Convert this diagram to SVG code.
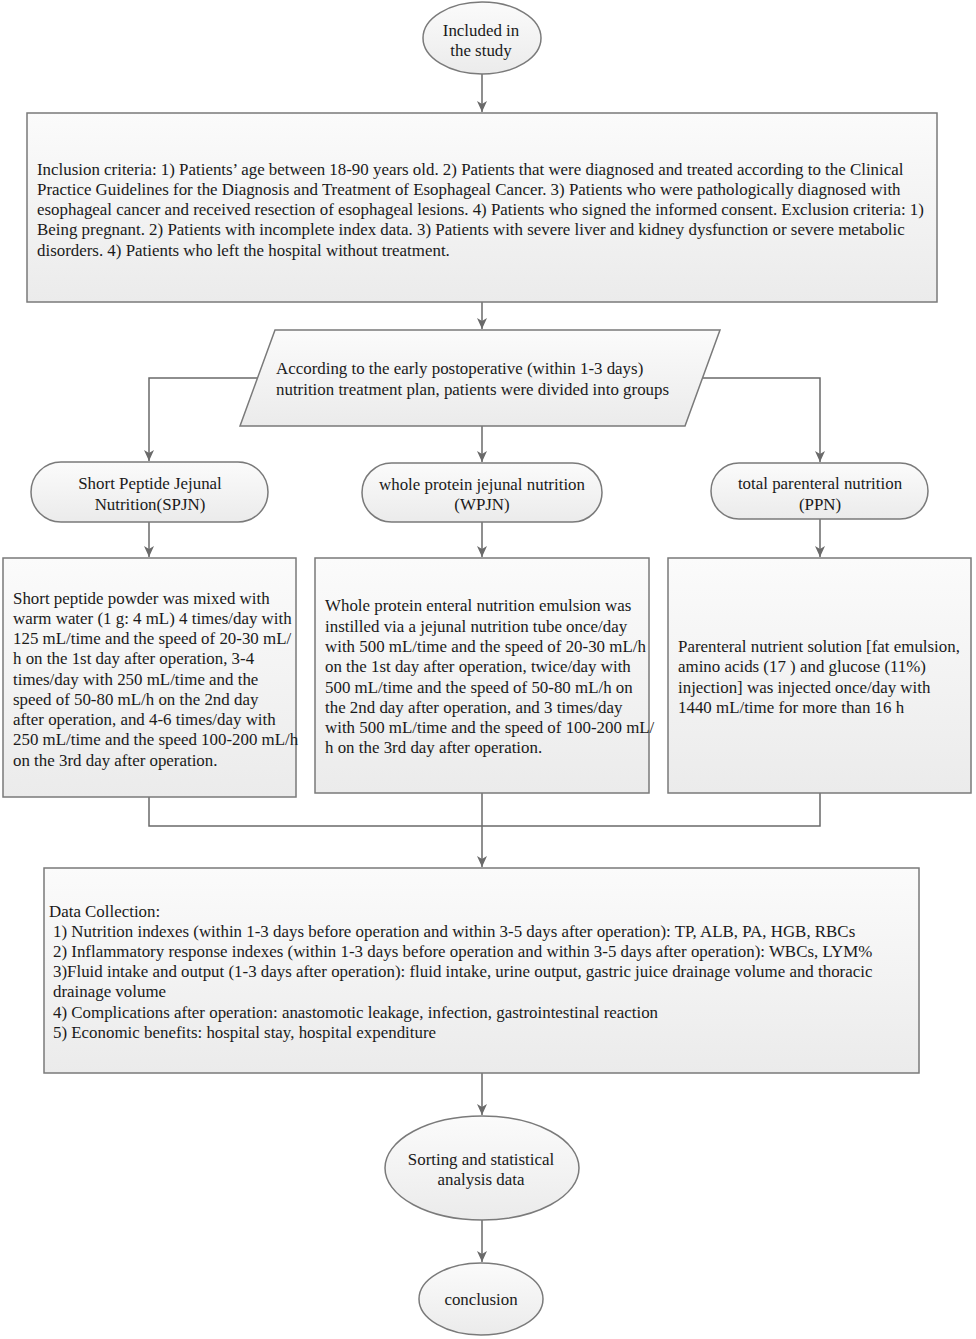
<svg xmlns="http://www.w3.org/2000/svg" width="976" height="1339" viewBox="0 0 976 1339">
<defs>
<linearGradient id="g" x1="0" y1="0" x2="0" y2="1">
<stop offset="0" stop-color="#fbfbfb"/>
<stop offset="1" stop-color="#ebebeb"/>
</linearGradient>
<marker id="arr" markerWidth="12" markerHeight="10" refX="11" refY="5" orient="auto" markerUnits="userSpaceOnUse">
<path d="M0,0 L11,5 L0,10 L3,5 z" fill="#6a6a6a"/>
</marker>
</defs>
<style>
.n{fill:url(#g);stroke:#7a7a7a;stroke-width:1.5}
.t{font-family:"Liberation Serif","Times New Roman",serif;font-size:16.9px;fill:#1a1a1a}
.c{text-anchor:middle}
.e{fill:none;stroke:#6a6a6a;stroke-width:1.5}
</style>
<rect width="976" height="1339" fill="#ffffff"/>
<g id="connectors">
<line class="e" x1="482" y1="73" x2="482" y2="112" marker-end="url(#arr)"/>
<line class="e" x1="482" y1="302" x2="482" y2="329" marker-end="url(#arr)"/>
<polyline class="e" points="257,378 149,378 149,461" marker-end="url(#arr)"/>
<line class="e" x1="482" y1="426" x2="482" y2="462" marker-end="url(#arr)"/>
<polyline class="e" points="702,378 820,378 820,462" marker-end="url(#arr)"/>
<line class="e" x1="149" y1="522" x2="149" y2="557" marker-end="url(#arr)"/>
<line class="e" x1="482" y1="522" x2="482" y2="557" marker-end="url(#arr)"/>
<line class="e" x1="820" y1="519" x2="820" y2="557" marker-end="url(#arr)"/>
<polyline class="e" points="149,797 149,826 820,826 820,793"/>
<line class="e" x1="482" y1="793" x2="482" y2="826"/>
<line class="e" x1="482" y1="826" x2="482" y2="867" marker-end="url(#arr)"/>
<line class="e" x1="482" y1="1073" x2="482" y2="1115" marker-end="url(#arr)"/>
<line class="e" x1="482" y1="1220" x2="482" y2="1262" marker-end="url(#arr)"/>
</g>
<g id="start">
<ellipse class="n" cx="482" cy="38" rx="59" ry="36"/>
<text class="t c" x="481" y="36">Included in</text>
<text class="t c" x="481" y="56">the study</text>
</g>
<g id="criteria">
<rect class="n" x="27" y="113" width="910" height="189"/>
<text class="t" x="37" y="175">Inclusion criteria: 1) Patients’ age between 18-90 years old. 2) Patients that were diagnosed and treated according to the Clinical</text>
<text class="t" x="37" y="195">Practice Guidelines for the Diagnosis and Treatment of Esophageal Cancer. 3) Patients who were pathologically diagnosed with</text>
<text class="t" x="37" y="215">esophageal cancer and received resection of esophageal lesions. 4) Patients who signed the informed consent. Exclusion criteria: 1)</text>
<text class="t" x="37" y="235">Being pregnant. 2) Patients with incomplete index data. 3) Patients with severe liver and kidney dysfunction or severe metabolic</text>
<text class="t" x="37" y="256">disorders. 4) Patients who left the hospital without treatment.</text>
</g>
<g id="grouping">
<polygon class="n" points="275,330 720,330 685,426 240,426"/>
<text class="t" x="276" y="374">According to the early postoperative (within 1-3 days)</text>
<text class="t" x="276" y="395">nutrition treatment plan, patients were divided into groups</text>
</g>
<g id="spjn">
<rect class="n" x="31" y="462" width="237" height="60" rx="30"/>
<text class="t c" x="150" y="489">Short Peptide Jejunal</text>
<text class="t c" x="150" y="510">Nutrition(SPJN)</text>
</g>
<g id="wpjn">
<rect class="n" x="362" y="463" width="240" height="59" rx="29.5"/>
<text class="t c" x="482" y="490">whole protein jejunal nutrition</text>
<text class="t c" x="482" y="510">(WPJN)</text>
</g>
<g id="ppn">
<rect class="n" x="711" y="463" width="217" height="56" rx="28"/>
<text class="t c" x="820" y="489">total parenteral nutrition</text>
<text class="t c" x="820" y="510">(PPN)</text>
</g>
<g id="spjn-detail">
<rect class="n" x="3" y="558" width="293" height="239"/>
<text class="t" x="13" y="604">Short peptide powder was mixed with</text>
<text class="t" x="13" y="624">warm water (1 g: 4 mL) 4 times/day with</text>
<text class="t" x="13" y="644">125 mL/time and the speed of 20-30 mL/</text>
<text class="t" x="13" y="664">h on the 1st day after operation, 3-4</text>
<text class="t" x="13" y="685">times/day with 250 mL/time and the</text>
<text class="t" x="13" y="705">speed of 50-80 mL/h on the 2nd day</text>
<text class="t" x="13" y="725">after operation, and 4-6 times/day with</text>
<text class="t" x="13" y="745">250 mL/time and the speed 100-200 mL/h</text>
<text class="t" x="13" y="766">on the 3rd day after operation.</text>
</g>
<g id="wpjn-detail">
<rect class="n" x="315" y="558" width="334" height="235"/>
<text class="t" x="325" y="611">Whole protein enteral nutrition emulsion was</text>
<text class="t" x="325" y="632">instilled via a jejunal nutrition tube once/day</text>
<text class="t" x="325" y="652">with 500 mL/time and the speed of 20-30 mL/h</text>
<text class="t" x="325" y="672">on the 1st day after operation, twice/day with</text>
<text class="t" x="325" y="693">500 mL/time and the speed of 50-80 mL/h on</text>
<text class="t" x="325" y="713">the 2nd day after operation, and 3 times/day</text>
<text class="t" x="325" y="733">with 500 mL/time and the speed of 100-200 mL/</text>
<text class="t" x="325" y="753">h on the 3rd day after operation.</text>
</g>
<g id="ppn-detail">
<rect class="n" x="668" y="558" width="303" height="235"/>
<text class="t" x="678" y="652">Parenteral nutrient solution [fat emulsion,</text>
<text class="t" x="678" y="672">amino acids (17 ) and glucose (11%)</text>
<text class="t" x="678" y="693">injection] was injected once/day with</text>
<text class="t" x="678" y="713">1440 mL/time for more than 16 h</text>
</g>
<g id="data">
<rect class="n" x="44" y="868" width="875" height="205"/>
<text class="t" x="49" y="917">Data Collection:</text>
<text class="t" x="53" y="937">1) Nutrition indexes (within 1-3 days before operation and within 3-5 days after operation): TP, ALB, PA, HGB, RBCs</text>
<text class="t" x="53" y="957">2) Inflammatory response indexes (within 1-3 days before operation and within 3-5 days after operation): WBCs, LYM%</text>
<text class="t" x="53" y="977">3)Fluid intake and output (1-3 days after operation): fluid intake, urine output, gastric juice drainage volume and thoracic</text>
<text class="t" x="53" y="997">drainage volume</text>
<text class="t" x="53" y="1018">4) Complications after operation: anastomotic leakage, infection, gastrointestinal reaction</text>
<text class="t" x="53" y="1038">5) Economic benefits: hospital stay, hospital expenditure</text>
</g>
<g id="analysis">
<ellipse class="n" cx="482" cy="1168" rx="97" ry="52"/>
<text class="t c" x="481" y="1165">Sorting and statistical</text>
<text class="t c" x="481" y="1185">analysis data</text>
</g>
<g id="conclusion">
<ellipse class="n" cx="481" cy="1299" rx="62" ry="36"/>
<text class="t c" x="481" y="1305">conclusion</text>
</g>
</svg>
